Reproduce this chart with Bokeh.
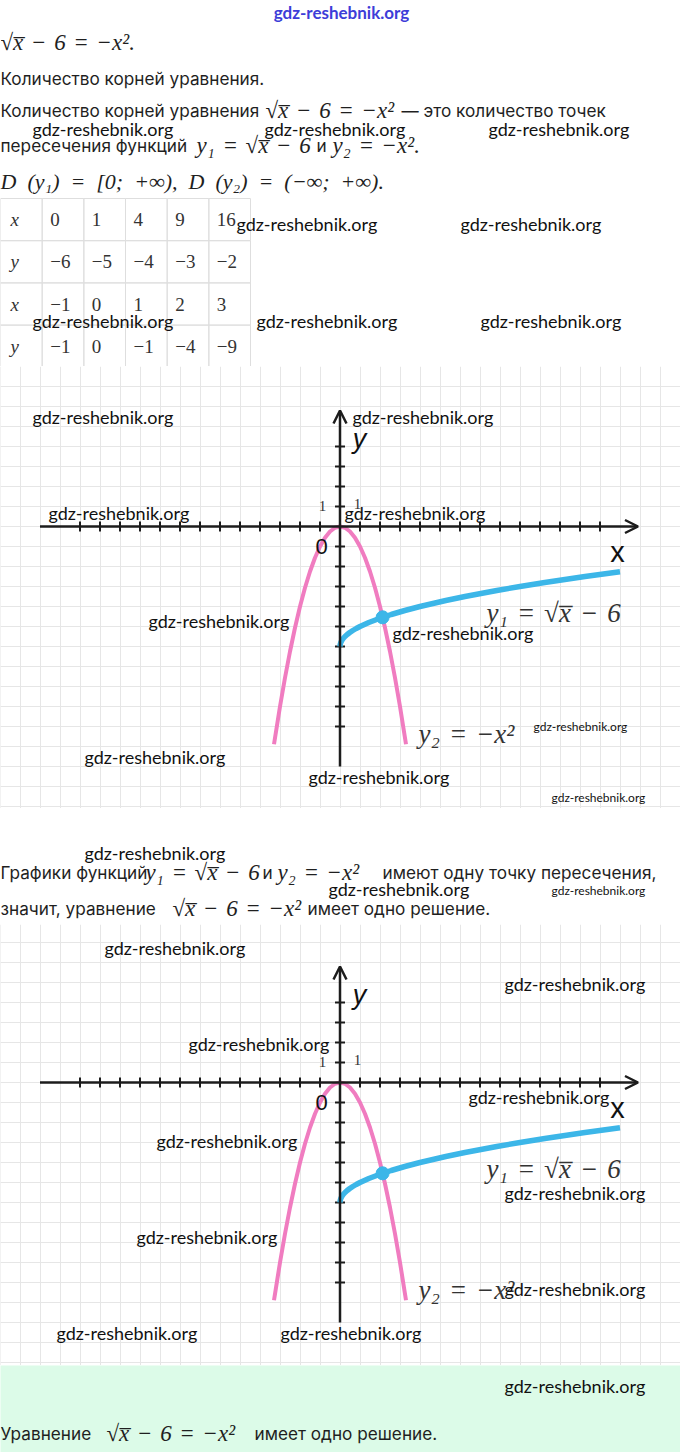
from bokeh.plotting import figure
from bokeh.layouts import column
from bokeh.models import Range1d, FixedTicker, Arrow, OpenHead
from bokeh.core.properties import value
from bokeh.embed import file_html
from bokeh.resources import INLINE

# ---------------- data ----------------
tab_x1 = ["0", "1", "4", "9", "16"]
tab_y1 = ["\u22126", "\u22125", "\u22124", "\u22123", "\u22122"]
tab_x2 = ["\u22121", "0", "1", "2", "3"]
tab_y2 = ["\u22121", "0", "\u22121", "\u22124", "\u22129"]
tab_heads = ["x", "y", "x", "y"]

sqrt_x = [0, 0.01, 0.04, 0.09, 0.16, 0.25, 0.36, 0.49, 0.64, 0.81, 1.0, 1.44,
          2.13, 2.56, 3.24, 4.0, 5.29, 6.25, 7.84, 9.0, 10.24, 12.25, 14.0]
sqrt_y = [-6.0, -5.9, -5.8, -5.7, -5.6, -5.5, -5.4, -5.3, -5.2, -5.1, -5.0, -4.8,
          -4.54, -4.4, -4.2, -4.0, -3.7, -3.5, -3.2, -3.0, -2.8, -2.5, -2.26]
para_x = [-3.3, -3.0, -2.75, -2.5, -2.25, -2.0, -1.75, -1.5, -1.25, -1.0, -0.75, -0.5, -0.25, 0.0,
          0.25, 0.5, 0.75, 1.0, 1.25, 1.5, 1.75, 2.0, 2.25, 2.5, 2.75, 3.0, 3.3]
para_y = [-10.89, -9.0, -7.5625, -6.25, -5.0625, -4.0, -3.0625, -2.25, -1.5625, -1.0, -0.5625, -0.25, -0.0625, 0.0,
          -0.0625, -0.25, -0.5625, -1.0, -1.5625, -2.25, -3.0625, -4.0, -5.0625, -6.25, -7.5625, -9.0, -10.89]
root_x = [2.13]
root_y = [-4.54]

x_ticks = [-13, -12, -11, -10, -9, -8, -7, -6, -5, -4, -3, -2, -1, 1, 2, 3, 4, 5, 6, 7, 8, 9, 10, 11, 12, 13]
y_ticks = [-10, -9, -8, -7, -6, -5, -4, -3, -2, -1, 1, 2, 3, 4]
x_axis_span = [-15.0, 14.9]
y_axis_span = [-12.0, 5.8]

# ---------------- style ----------------
W = 680
SANS = "Inter"
SERIF = "Liberation Serif"
WMF = "Lato"
TXT = "#1f1f1f"
PINK = "#f07cc0"
BLUE = "#3cb6e8"
GRIDC = "#e6e6e6"
AXC = "#1c1c1c"
SP = "\u2004"
EN = "\u2002"
EQ = f"\u221ax\u0305{SP}\u2212{SP}6{SP}={SP}\u2212x\u00b2"
Y1 = f"y\u2081{SP}={SP}\u221ax\u0305{SP}\u2212{SP}6"
Y2 = f"y\u2082{SP}={SP}\u2212x\u00b2"
DOM = (f"D{EN}(y\u2081){EN}={EN}[0;{EN}+\u221e),{EN}D{EN}(y\u2082){EN}={EN}"
       f"(\u2212\u221e;{EN}+\u221e).")
WM = "gdz-reshebnik.org"
BODY = 17.2
MATH = 23


def T(p, x, y, s, size, font=SANS, color=TXT, style="normal", align="left"):
    p.text(x=[x], y=[y], text=[s], text_font=value(font), text_font_size=f"{size}px",
           text_color=color, text_font_style=style, text_align=align, text_baseline="middle")


def base_fig(h, xr, yr, bg="white"):
    p = figure(width=W, height=h, x_range=xr, y_range=yr, output_backend="svg",
               toolbar_location=None, min_border=0, outline_line_color=None,
               background_fill_color=bg, border_fill_color=bg)
    p.axis.visible = False
    p.xgrid.visible = False
    p.ygrid.visible = False
    return p


def pix_fig(h, top, bottom, bg="white"):
    return base_fig(h, Range1d(0, W), Range1d(bottom, top), bg)


# ---------------- top text + table ----------------
f1 = pix_fig(366, 0, 366)
T(f1, 341, 12, WM, 17, WMF, "#3d3dd8", "bold", "center")
T(f1, 0, 42, EQ + ".", MATH, SERIF, TXT, "italic")
T(f1, 0, 78, "Количество корней уравнения.", BODY)
T(f1, 0, 110, "Количество корней уравнения", BODY)
T(f1, 265, 110, EQ, MATH, SERIF, TXT, "italic")
T(f1, 401, 110, "— это количество точек", BODY)
T(f1, 0, 145, "пересечения функций", BODY)
T(f1, 196, 145, Y1, MATH, SERIF, TXT, "italic")
T(f1, 316, 145, "и", BODY)
T(f1, 332, 145, Y2 + ".", MATH, SERIF, TXT, "italic")
T(f1, 0, 181, DOM, 22, SERIF, TXT, "italic")

col_w = 250 / 6
row_top = 198
row_h = 42.2
lefts, rights, tops, bots = [], [], [], []
for r in range(4):
    for c in range(6):
        lefts.append(c * col_w)
        rights.append((c + 1) * col_w)
        tops.append(row_top + r * row_h)
        bots.append(row_top + (r + 1) * row_h)
f1.quad(left=lefts, right=rights, top=tops, bottom=bots, fill_color=None,
        line_color="#dedede", line_width=1)
rows = [tab_x1, tab_y1, tab_x2, tab_y2]
for r, vals in enumerate(rows):
    cy = row_top + (r + 0.5) * row_h
    T(f1, 10, cy, tab_heads[r], 19, SERIF, "#333333", "italic")
    for c, v in enumerate(vals):
        T(f1, (c + 1) * col_w + 8, cy, v, 19, SERIF, "#333333")

for (xl, yy) in [(32, 128), (264, 128), (488, 128), (236, 223), (460, 223),
                 (32, 320), (256, 320), (480, 320)]:
    T(f1, xl, yy, WM, 18, WMF, "#111111")


# ---------------- chart ----------------
OX = 339.5      # x pixel of the y axis in the reference
AY1 = 526       # y pixel of the x axis in the first chart (label positions are given in it)


def chart(h, top_ref, axis_ref, bottom_ref, wms, small_wms):
    xr = Range1d((0 - OX) / 20, (W - OX) / 20)
    yr = Range1d((axis_ref - bottom_ref) / 20, (axis_ref - top_ref) / 20)
    p = base_fig(h, xr, yr)
    p.xgrid.visible = True
    p.ygrid.visible = True
    p.xgrid.ticker = FixedTicker(ticks=list(range(-18, 19)))
    p.ygrid.ticker = FixedTicker(ticks=list(range(-16, 10)))
    p.xgrid.grid_line_color = GRIDC
    p.ygrid.grid_line_color = GRIDC

    def dx(rx):
        return (rx - OX) / 20

    def dy(ry):
        return (AY1 - ry) / 20

    # axes
    p.add_layout(Arrow(end=OpenHead(size=13, line_width=2.5, line_color=AXC),
                       x_start=x_axis_span[0], y_start=0, x_end=x_axis_span[1], y_end=0,
                       line_width=2.5, line_color=AXC))
    p.add_layout(Arrow(end=OpenHead(size=13, line_width=2.5, line_color=AXC),
                       x_start=0, y_start=y_axis_span[0], x_end=0, y_end=y_axis_span[1],
                       line_width=2.5, line_color=AXC))
    p.segment(x0=x_ticks, x1=x_ticks, y0=[-0.25] * len(x_ticks), y1=[0.25] * len(x_ticks),
              line_color=AXC, line_width=2)
    p.segment(x0=[-0.25] * len(y_ticks), x1=[0.25] * len(y_ticks), y0=y_ticks, y1=y_ticks,
              line_color=AXC, line_width=2)

    # curves
    p.line(para_x, para_y, line_color=PINK, line_width=4)
    p.line(sqrt_x, sqrt_y, line_color=BLUE, line_width=5.5)
    p.scatter(root_x, root_y, size=13, fill_color=BLUE, line_color=BLUE)

    # labels
    T(p, dx(359), dy(438), "y", 27, "Liberation Sans", "#111111", "italic", "center")
    T(p, dx(617), dy(551), "x", 29, "Liberation Sans", "#111111", "normal", "center")
    T(p, dx(321), dy(546), "0", 22, "Liberation Sans", "#111111", "normal", "center")
    T(p, dx(322), dy(505), "1", 15, SERIF, "#333333", "normal", "center")
    T(p, dx(357), dy(503), "1", 15, SERIF, "#333333", "normal", "center")
    T(p, dx(486), dy(612), Y1, 27, SERIF, "#333333", "italic")
    T(p, dx(418), dy(733), Y2, 27, SERIF, "#333333", "italic")

    for (xl, yy) in wms:
        T(p, dx(xl), dy(yy), WM, 18, WMF, "#111111")
    for (xl, yy) in small_wms:
        T(p, dx(xl), dy(yy), WM, 12, WMF, "#111111")
    return p


f2 = chart(442, 366, 526, 808,
           [(32, 416), (352, 416), (48, 512), (344, 512), (148, 620), (392, 632),
            (84, 756), (308, 776)],
           [(533, 726), (551, 797)])

# ---------------- middle text ----------------
f3 = pix_fig(116, 808, 924)
T(f3, 0, 872, "Графики функций", BODY)
T(f3, 145, 872, Y1, MATH, SERIF, TXT, "italic")
T(f3, 262, 872, "и", BODY)
T(f3, 277, 872, Y2, MATH, SERIF, TXT, "italic")
T(f3, 382, 872, "имеют одну точку пересечения,", BODY)
T(f3, 0, 908, "значит, уравнение", BODY)
T(f3, 172, 908, EQ, MATH, SERIF, TXT, "italic")
T(f3, 307, 908, "имеет одно решение.", BODY)
T(f3, 84, 852, WM, 18, WMF, "#111111")
T(f3, 328, 888, WM, 18, WMF, "#111111")
T(f3, 551, 890, WM, 12, WMF, "#111111")

# second chart: watermark positions given relative to the first chart's frame (shift 556)
f4 = chart(441, 924, 1082, 1365,
           [(104, 947 - 556), (504, 983 - 556), (188, 1043 - 556), (468, 1096 - 556),
            (156, 1140 - 556), (504, 1192 - 556), (136, 1236 - 556), (504, 1288 - 556),
            (56, 1332 - 556), (280, 1332 - 556)],
           [])

# ---------------- bottom box ----------------
f5 = pix_fig(87, 1365, 1452, bg="#dcfbe8")
T(f5, 504, 1385, WM, 18, WMF, "#111111")
T(f5, 0, 1433, "Уравнение", BODY)
T(f5, 106, 1433, EQ, MATH, SERIF, TXT, "italic")
T(f5, 254, 1433, "имеет одно решение.", BODY)

page = column(f1, f2, f3, f4, f5, spacing=0)
open("out.html", "w").write(file_html(page, INLINE))
